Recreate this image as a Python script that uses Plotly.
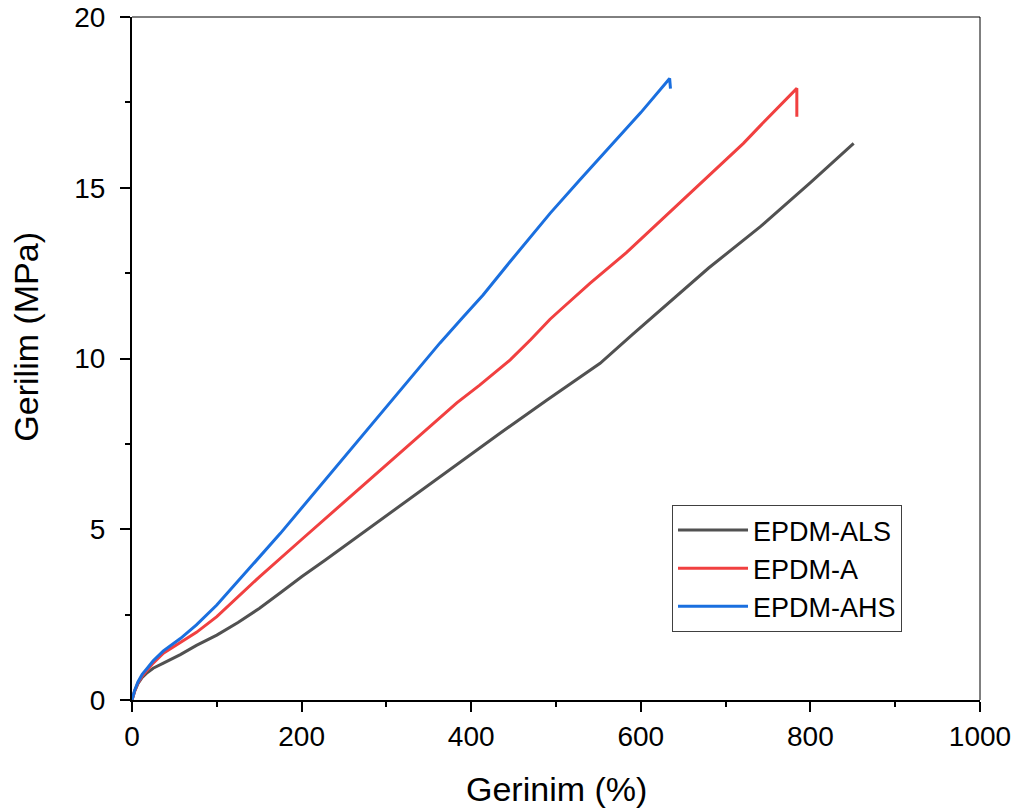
import plotly.graph_objects as go

# EPDM-ALS (grey)
als_x = [0, 3, 7, 12, 17, 25, 37, 57, 76, 100, 125, 150, 175, 200, 228, 300, 434, 489, 520, 552, 590, 623, 680, 741, 800, 851]
als_y = [0, 0.25, 0.48, 0.66, 0.78, 0.93, 1.08, 1.33, 1.60, 1.90, 2.27, 2.68, 3.14, 3.61, 4.10, 5.40, 7.81, 8.78, 9.30, 9.86, 10.70, 11.42, 12.65, 13.86, 15.15, 16.30]

# EPDM-A (red)
a_x = [0, 3, 7, 12, 17, 25, 37, 57, 76, 100, 150, 200, 300, 350, 383, 410, 446, 470, 493, 505, 540, 583, 630, 674, 721, 741, 784, 784]
a_y = [0, 0.25, 0.50, 0.70, 0.85, 1.08, 1.37, 1.67, 1.98, 2.44, 3.60, 4.70, 6.90, 8.00, 8.70, 9.22, 9.96, 10.55, 11.15, 11.42, 12.20, 13.10, 14.20, 15.20, 16.30, 16.82, 17.91, 17.08]

# EPDM-AHS (blue)
ahs_x = [0, 3, 7, 12, 17, 25, 37, 57, 76, 100, 175, 200, 300, 363, 390, 414, 446, 493, 528, 600, 634, 635]
ahs_y = [0, 0.27, 0.53, 0.75, 0.90, 1.15, 1.44, 1.80, 2.20, 2.78, 4.88, 5.62, 8.60, 10.45, 11.20, 11.86, 12.84, 14.25, 15.23, 17.20, 18.20, 17.90]

names = ["EPDM-ALS", "EPDM-A", "EPDM-AHS"]
colors = ["#515151", "#F14040", "#1A6FDF"]

x_ticks = [0, 200, 400, 600, 800, 1000]
y_ticks = [0, 5, 10, 15, 20]

FONT = "Liberation Sans, Arial, sans-serif"

fig = go.Figure()
for xs, ys, n, c in zip([als_x, a_x, ahs_x], [als_y, a_y, ahs_y], names, colors):
    fig.add_trace(go.Scatter(x=xs, y=ys, mode="lines", name=n,
                             line=dict(color=c, width=3)))

axis_common = dict(
    showgrid=False, zeroline=False, showline=True, linecolor="black", linewidth=2,
    ticks="outside", ticklen=10, tickwidth=2, tickcolor="black", automargin=False,
    tickfont=dict(family=FONT, size=28, color="black"),
)

fig.update_xaxes(range=[0, 1000], tickvals=x_ticks,
                 minor=dict(ticks="outside", ticklen=5, tickwidth=2, tickcolor="black", dtick=100, tick0=0, showgrid=False),
                 **axis_common)
fig.update_yaxes(range=[0, 20], tickvals=y_ticks, ticklabelstandoff=9,
                 minor=dict(ticks="outside", ticklen=5, tickwidth=2, tickcolor="black", dtick=2.5, tick0=0, showgrid=False),
                 **axis_common)

fig.update_layout(
    width=1018, height=812,
    margin=dict(l=132, r=38, t=17, b=112),
    paper_bgcolor="white", plot_bgcolor="white",
    font=dict(family=FONT, color="black"),
    legend=dict(x=0.6368, y=0.2855, xanchor="left", yanchor="top",
                bordercolor="#404040", borderwidth=1, bgcolor="white",
                itemwidth=70,
                font=dict(family=FONT, size=27, color="black")),
    shapes=[
        dict(type="line", xref="paper", yref="paper", x0=0, x1=1, y0=1, y1=1,
             line=dict(color="black", width=1)),
        dict(type="line", xref="paper", yref="paper", x0=1, x1=1, y0=0, y1=1,
             line=dict(color="black", width=1)),
    ],
    annotations=[
        dict(text="Gerinim (%)", xref="paper", yref="paper", x=0.5, y=-0.130,
             xanchor="center", yanchor="middle", showarrow=False,
             font=dict(family=FONT, size=34, color="black")),
        dict(text="Gerilim (MPa)", xref="paper", yref="paper", x=-0.1250, y=0.532,
             xanchor="center", yanchor="middle", showarrow=False, textangle=-90,
             font=dict(family=FONT, size=34, color="black")),
    ],
)

fig.write_html("out.html")
